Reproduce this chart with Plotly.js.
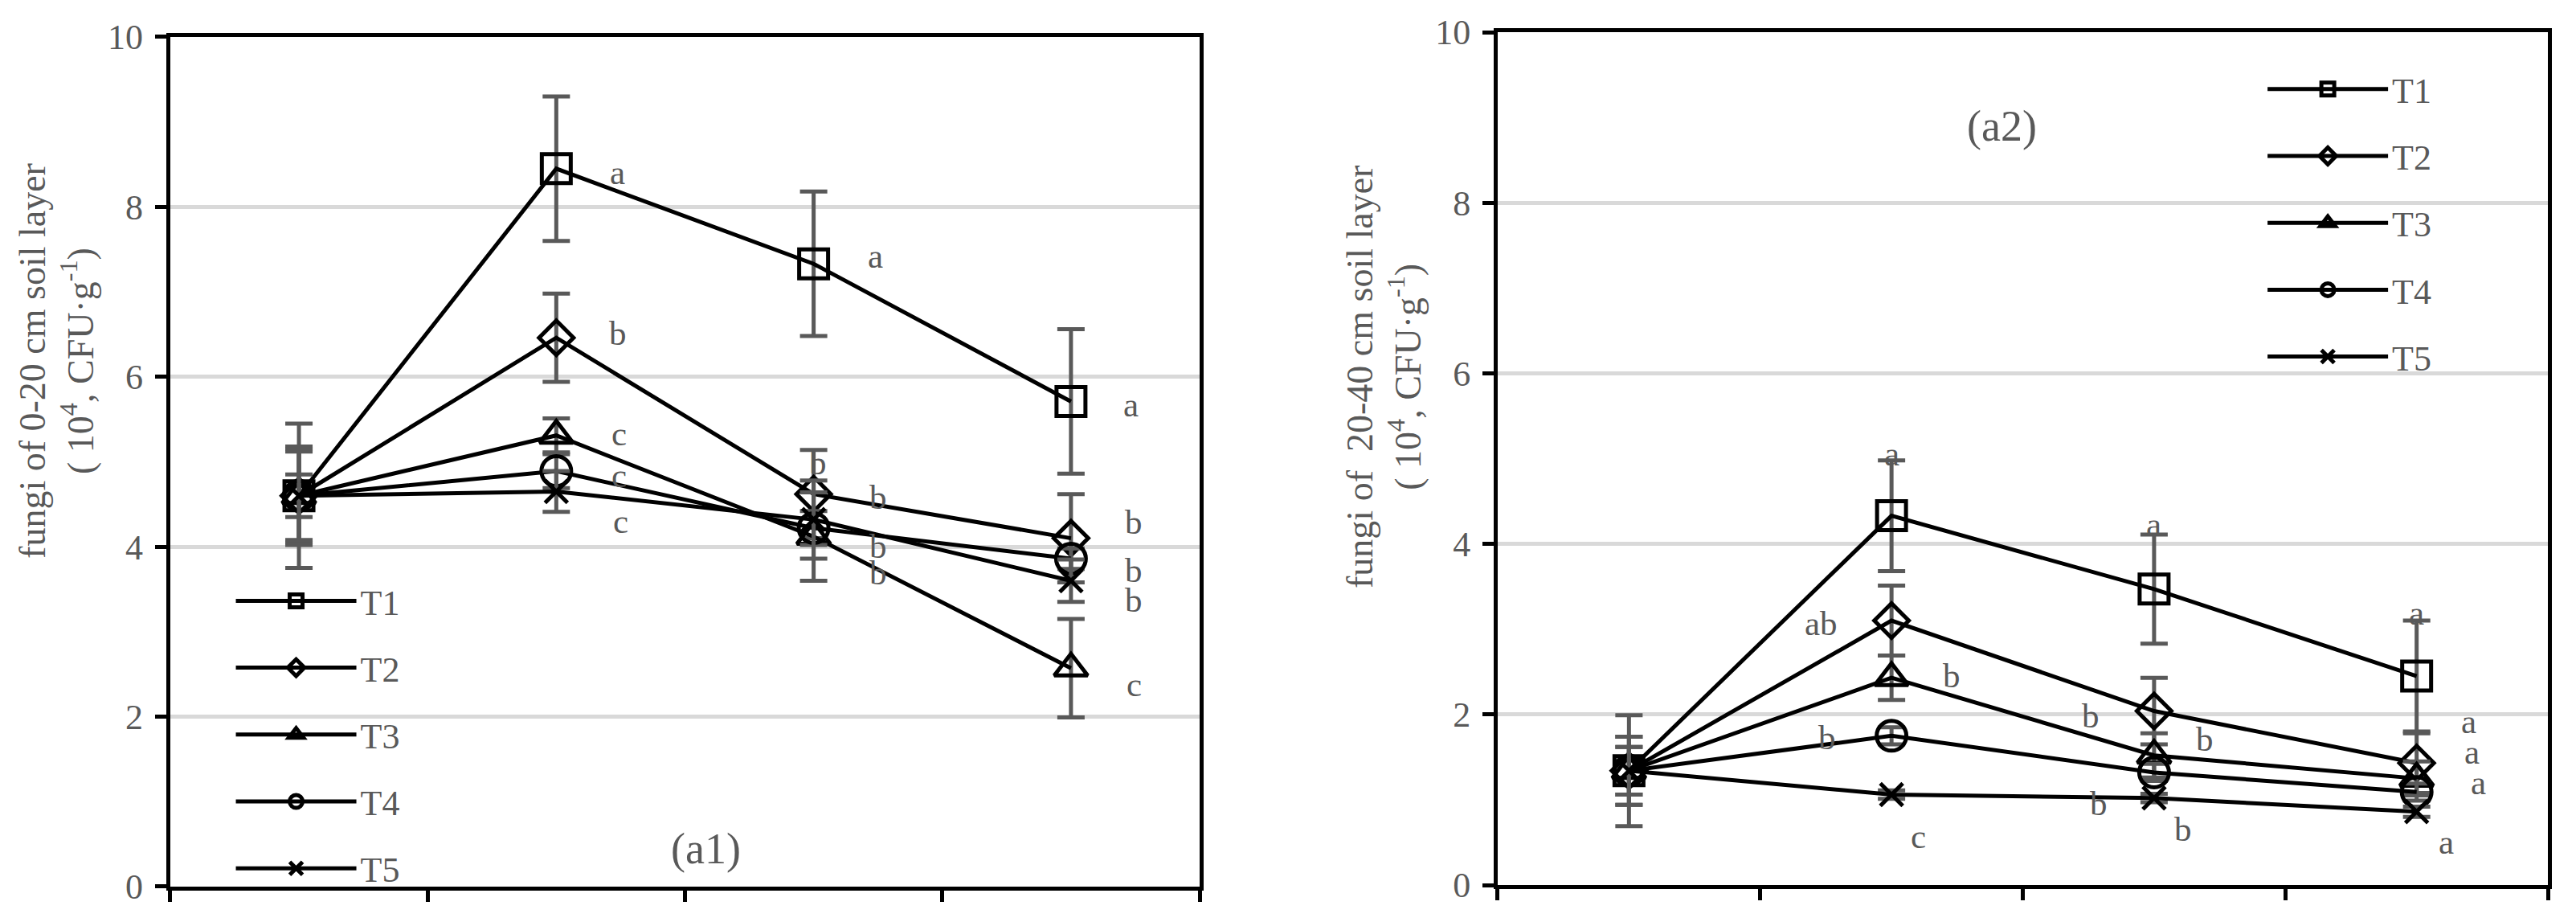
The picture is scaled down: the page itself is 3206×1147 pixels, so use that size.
<!DOCTYPE html>
<html>
<head>
<meta charset="utf-8">
<script src="https://cdn.plot.ly/plotly-3.0.1.min.js"></script>
<style>
  body { margin: 0; background: #fff; }
</style>
</head>
<body>
<div id="chart" style="width:3206px;height:1147px"></div>
<script>
// sampling stages along x (the axis shows no labels)
var stages = [1, 2, 3, 4];
var treatments = ['T1', 'T2', 'T3', 'T4', 'T5'];

// (a1) fungi of 0-20 cm soil layer, 10^4 CFU/g
var a1_T1 = [4.60, 8.45, 7.33, 5.71];
var a1_T2 = [4.60, 6.46, 4.62, 4.10];
var a1_T3 = [4.60, 5.31, 4.12, 2.57];
var a1_T4 = [4.60, 4.89, 4.22, 3.86];
var a1_T5 = [4.60, 4.65, 4.32, 3.60];
var a1_T1_sd = [0.85, 0.85, 0.85, 0.85];
var a1_T2_sd = [0.55, 0.52, 0.52, 0.52];
var a1_T3_sd = [0.58, 0.20, 0.52, 0.58];
var a1_T4_sd = [0.25, 0.20, 0.20, 0.12];
var a1_T5_sd = [0.52, 0.24, 0.46, 0.25];
var a1_T1_sig = ['', 'a', 'a', 'a'];
var a1_T2_sig = ['', 'b', 'b', 'b'];
var a1_T3_sig = ['', 'c', 'b', 'c'];
var a1_T4_sig = ['', 'c', 'b', 'b'];
var a1_T5_sig = ['', 'c', 'b', 'b'];

// (a2) fungi of 20-40 cm soil layer, 10^4 CFU/g
var a2_T1 = [1.34, 4.33, 3.47, 2.45];
var a2_T2 = [1.34, 3.10, 2.04, 1.43];
var a2_T3 = [1.34, 2.43, 1.52, 1.25];
var a2_T4 = [1.34, 1.75, 1.32, 1.09];
var a2_T5 = [1.34, 1.06, 1.02, 0.86];
var a2_T1_sd = [0.65, 0.65, 0.64, 0.65];
var a2_T2_sd = [0.40, 0.41, 0.39, 0.35];
var a2_T3_sd = [0.28, 0.26, 0.26, 0.20];
var a2_T4_sd = [0.28, 0.10, 0.10, 0.10];
var a2_T5_sd = [0.40, 0.05, 0.05, 0.06];
var a2_T1_sig = ['', 'a', 'a', 'a'];
var a2_T2_sig = ['', 'ab', 'b', 'a'];
var a2_T3_sig = ['', 'b', 'b', 'a'];
var a2_T4_sig = ['', 'b', 'b', 'a'];
var a2_T5_sig = ['', 'c', 'b', 'a'];

// ---- styling (not data) ----
var FONT = 'Liberation Serif, Times New Roman, serif';
var GREY = '#595959';
var symbols = {
	T1: {symbol: 'square-open', size: 36},
	T2: {symbol: 'diamond-open', size: 33},
	T3: {symbol: 'triangle-up-open', size: 36},
	T4: {symbol: 'circle-open', size: 37},
	T5: {symbol: 'x-thin-open', size: 28},
};
// letter placement next to each point, in px [right, down]
var a1_shift = {
	T1: [null, [76, 5], [77, -10], [75, 4]],
	T2: [null, [77, -6], [80, 4], [78, -20]],
	T3: [null, [78, -2], [80, 45], [79, 20]],
	T4: [null, [78, 5], [80, 23], [78, 15]],
	T5: [null, [80, 37], [5, -71], [78, 24]],
};
var a2_shift = {
	T1: [null, [0, -77], [0, -80], [0, -79]],
	T2: [null, [-88, 3], [-79, 6], [65, -52]],
	T3: [null, [75, -3], [63, -20], [69, -33]],
	T4: [null, [-80, 2], [-69, 39], [77, -12]],
	T5: [null, [33, 52], [36, 39], [37, 38]],
};

var panels = [
	{xa: 'x', ya: 'y', legend: 'legend', tag: 'a1',
		vals: {T1: a1_T1, T2: a1_T2, T3: a1_T3, T4: a1_T4, T5: a1_T5},
		sd: {T1: a1_T1_sd, T2: a1_T2_sd, T3: a1_T3_sd, T4: a1_T4_sd, T5: a1_T5_sd},
		sig: {T1: a1_T1_sig, T2: a1_T2_sig, T3: a1_T3_sig, T4: a1_T4_sig, T5: a1_T5_sig},
		shift: a1_shift},
	{xa: 'x2', ya: 'y2', legend: 'legend2', tag: 'a2',
		vals: {T1: a2_T1, T2: a2_T2, T3: a2_T3, T4: a2_T4, T5: a2_T5},
		sd: {T1: a2_T1_sd, T2: a2_T2_sd, T3: a2_T3_sd, T4: a2_T4_sd, T5: a2_T5_sd},
		sig: {T1: a2_T1_sig, T2: a2_T2_sig, T3: a2_T3_sig, T4: a2_T4_sig, T5: a2_T5_sig},
		shift: a2_shift},
];

var data = [];
var annotations = [];
panels.forEach(function(p) {
	treatments.forEach(function(t) {
		data.push({
			type: 'scatter',
			mode: 'lines+markers',
			name: t,
			x: stages,
			y: p.vals[t],
			xaxis: p.xa,
			yaxis: p.ya,
			legend: p.legend,
			legendgroup: p.tag + t,
			line: {color: '#000', width: 5},
			marker: {symbol: symbols[t].symbol, size: symbols[t].size, color: '#000',
				line: {color: '#000', width: 5}},
			error_y: {type: 'data', array: p.sd[t], visible: true,
				color: GREY, thickness: 5, width: 17},
			cliponaxis: false,
			hoverinfo: 'skip',
		});
		p.sig[t].forEach(function(s, i) {
			if (!s) { return; }
			var sh = p.shift[t][i];
			annotations.push({
				xref: p.xa, yref: p.ya,
				x: stages[i], y: p.vals[t][i],
				xshift: sh[0], yshift: -sh[1],
				text: s, showarrow: false,
				xanchor: 'center', yanchor: 'middle',
				font: {family: FONT, size: 43, color: GREY},
			});
		});
	});
});

// panel tags and y titles
function paperText(x, y, text, size, angle) {
	return {xref: 'paper', yref: 'paper', x: x, y: y, text: text, textangle: angle || 0,
		xanchor: 'center', yanchor: 'middle', showarrow: false,
		font: {family: FONT, size: size, color: GREY}};
}
annotations.push(paperText(0.274, 0.079, '(a1)', 54));
annotations.push(paperText(0.777, 0.863, '(a2)', 54));
annotations.push(paperText(0.0218, 0.6085,
	'fungi of 0-20 cm soil layer<br>( 10<sup>4</sup>, CFU·g<sup>-1</sup>)', 46, -90));
annotations.push(paperText(0.5371, 0.5911,
	'fungi of\u00a0 20-40 cm soil layer<br>( 10<sup>4</sup>, CFU·g<sup>-1</sup>)', 46, -90));

function xAxis(dom, anchor) {
	return {
		domain: dom, range: [0.5, 4.5], anchor: anchor,
		tickmode: 'array', tickvals: [0.5, 1.5, 2.5, 3.5, 4.5],
		showticklabels: false, ticks: 'outside', ticklen: 14, tickwidth: 5, tickcolor: '#000',
		showline: true, linecolor: '#000', linewidth: 5, mirror: true,
		showgrid: false, zeroline: false, fixedrange: true,
	};
}
function yAxis(dom, anchor) {
	return {
		domain: dom, range: [0, 10], dtick: 2, anchor: anchor,
		ticks: 'outside', ticklen: 14, tickwidth: 5, tickcolor: '#000',
		ticklabelstandoff: 6,
		tickfont: {family: FONT, size: 44, color: GREY},
		showline: true, linecolor: '#000', linewidth: 5, mirror: true,
		showgrid: true, gridcolor: '#d9d9d9', gridwidth: 5,
		zeroline: false, fixedrange: true,
	};
}
function legendBox(x, y) {
	return {
		x: x, y: y, xanchor: 'left', yanchor: 'top',
		bgcolor: 'rgba(0,0,0,0)', borderwidth: 0,
		font: {family: FONT, size: 44, color: GREY},
		itemwidth: 150, tracegroupgap: 23, traceorder: 'grouped',
	};
}

var layout = {
	width: 3206, height: 1147,
	margin: {l: 0, r: 0, t: 0, b: 0},
	paper_bgcolor: '#fff', plot_bgcolor: '#fff',
	showlegend: true,
	xaxis: xAxis([0.0661, 0.4657], 'y'),
	yaxis: yAxis([0.0384, 0.9599], 'x'),
	xaxis2: xAxis([0.5814, 0.9891], 'y2'),
	yaxis2: yAxis([0.0401, 0.9651], 'x2'),
	legend: legendBox(0.09, 0.379),
	legend2: legendBox(0.8787, 0.934),
	annotations: annotations,
};

Plotly.newPlot('chart', data, layout, {displayModeBar: false, staticPlot: true});
</script>
</body>
</html>
